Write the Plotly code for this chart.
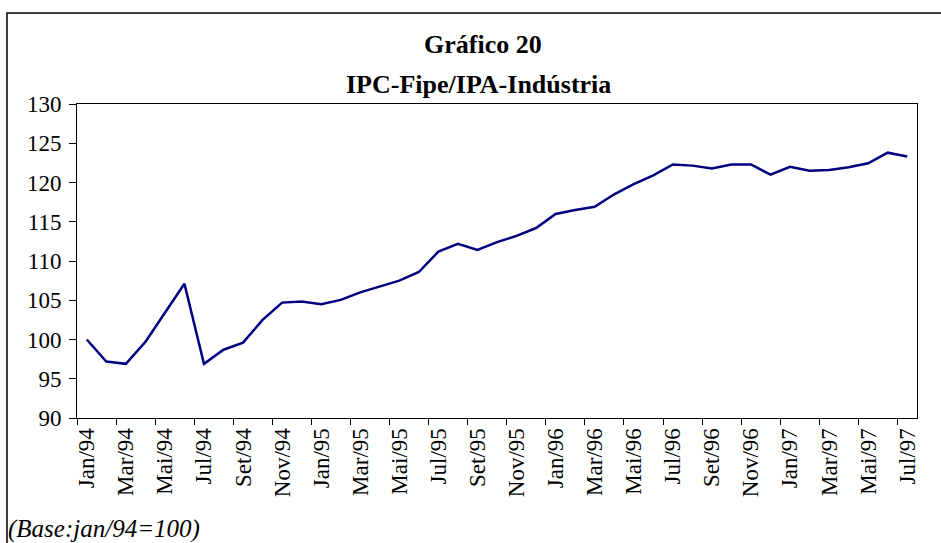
import plotly.graph_objects as go

months = ["Jan", "Fev", "Mar", "Abr", "Mai", "Jun", "Jul", "Ago", "Set", "Out", "Nov", "Dez"]
categories = [f"{m}/{y}" for y in ["94", "95", "96"] for m in months] + [f"{m}/97" for m in months[:7]]

ipc_ipa = [
    100.0, 97.2, 96.9, 99.7, 103.4, 107.1, 96.9, 98.7, 99.6, 102.5, 104.7, 104.85,
    104.5, 105.05, 106.0, 106.7, 107.5, 108.6, 111.2, 112.2, 111.4, 112.4, 113.2, 114.2,
    116.0, 116.5, 116.9, 118.5, 119.8, 120.9, 122.3, 122.15, 121.8, 122.3, 122.3, 121.0,
    122.0, 121.5, 121.6, 121.95, 122.45, 123.8, 123.3,
]

title_main = "Gráfico 20"
title_sub = "IPC-Fipe/IPA-Indústria"
note = "(Base:jan/94=100)"

W, H = 941, 543
L, R, T, B = 77, 24, 104, 125
pw, ph = W - L - R, H - T - B

def px(x):
    return (x - L) / pw

def py(y):
    return (H - B - y) / ph

fig = go.Figure()
fig.add_trace(go.Scatter(
    x=categories, y=ipc_ipa, mode="lines",
    line=dict(color="#000080", width=2.5),
    showlegend=False,
))

font = "Liberation Serif, Times New Roman, serif"
fig.update_layout(
    width=W, height=H,
    margin=dict(l=L, r=R, t=T, b=B),
    paper_bgcolor="white", plot_bgcolor="white",
    font=dict(family=font, color="black", size=23),
    xaxis=dict(
        type="category", tickson="boundaries", dtick=2,
        tickangle=-90, ticks="outside", ticklen=6, tickcolor="black",
        showline=True, linecolor="black", linewidth=1, mirror=True,
        showgrid=False, zeroline=False,
        tickfont=dict(size=23, family=font),
        range=[-0.5, len(categories) - 0.5],
    ),
    yaxis=dict(
        range=[90, 130], dtick=5, ticks="outside", ticklen=7, tickcolor="black",
        showline=True, linecolor="black", linewidth=1, mirror=True,
        showgrid=False, zeroline=False, ticklabelstandoff=3,
        tickfont=dict(size=23, family=font),
    ),
    annotations=[
        dict(text="<b>" + title_main + "</b>", xref="paper", yref="paper",
             x=px(483), y=py(44), xanchor="center", yanchor="middle",
             showarrow=False, font=dict(size=26, family=font)),
        dict(text="<b>" + title_sub + "</b>", xref="paper", yref="paper",
             x=px(478), y=py(85), xanchor="center", yanchor="middle",
             showarrow=False, font=dict(size=26, family=font)),
        dict(text="<i>" + note + "</i>", xref="paper", yref="paper",
             x=px(6), y=py(529), xanchor="left", yanchor="middle",
             showarrow=False, font=dict(size=25, family=font)),
    ],
    shapes=[
        dict(type="rect", xref="paper", yref="paper",
             x0=px(7), x1=px(990), y0=py(620), y1=py(13),
             line=dict(color="black", width=1.5), fillcolor="rgba(0,0,0,0)"),
    ],
)

fig.write_html("out.html", config={"displayModeBar": False},
               post_script="document.body.style.margin='0';")
